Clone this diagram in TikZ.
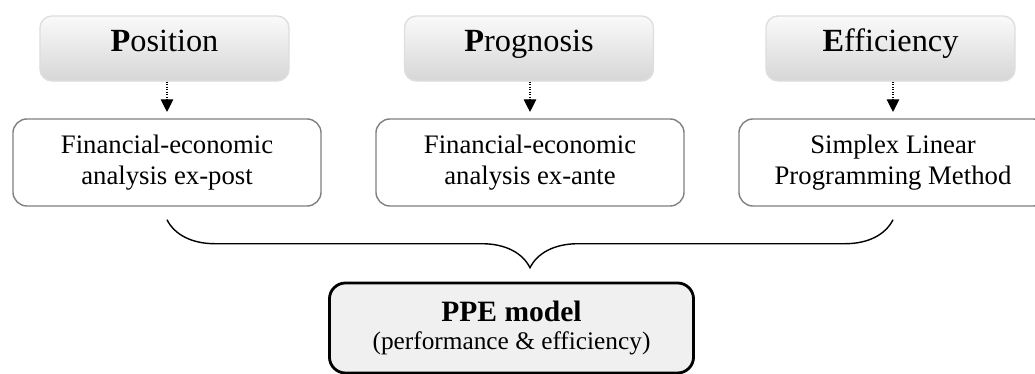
\documentclass[tikz,border=0pt]{standalone}
\usepackage{fontspec}
\setmainfont{Liberation Serif}
\usetikzlibrary{arrows.meta,decorations.pathreplacing,calc}

\begin{document}
\begin{tikzpicture}[x=0.025cm, y=0.025cm,
    pillar/.style={rectangle, rounded corners=0.3cm, draw=black!13, line width=1pt,
        top color=black!2, bottom color=black!16, minimum width=6.225cm, minimum height=1.625cm,
        text height=0.68em, text depth=0.22em, font=\fontsize{23}{27}\selectfont},
    method/.style={rectangle, rounded corners=0.35cm, draw=black!50, line width=1pt, fill=white,
        minimum width=7.7cm, minimum height=2.175cm, align=center,
        font=\fontsize{19}{22.5}\selectfont},
    model/.style={rectangle, rounded corners=0.4cm, draw=black, line width=2pt, fill=black!6,
        minimum width=9.1cm, minimum height=2.25cm, align=center,
        font=\fontsize{18}{20}\selectfont},
    dotarrow/.style={densely dotted, line width=0.8pt, -{Triangle[width=9pt,length=9pt]}, shorten >=4.5pt}]
    \useasboundingbox (0,0) rectangle (1035,374);
    \clip (0,0) rectangle (1035,374);

    % PILASTRI
    \node[pillar] (t1) at (164.5,325.5) {\textbf{P}osition};
    \node[pillar] (t2) at (529,325.5) {\textbf{P}rognosis};
    \node[pillar] (t3) at (890.5,325.5) {\textbf{E}fficiency};

    % METODI
    \node[method] (b1) at (167,211.5) {Financial-economic\\analysis ex-post};
    \node[method] (b2) at (530,211.5) {Financial-economic\\analysis ex-ante};
    \node[method] (b3) at (893,211.5) {Simplex Linear\\Programming Method};

    \draw[dotarrow] (b1.north |- t1.south) -- (b1.north);
    \draw[dotarrow] (b2.north |- t2.south) -- (b2.north);
    \draw[dotarrow] (b3.north |- t3.south) -- (b3.north);

    % MODELLO
    \node[model] (m) at (511.5,46) {{\fontsize{21}{20}\selectfont\bfseries PPE model}\\
        (performance \& efficiency)};

    \coordinate (bl) at ($(b1.south)+(0,-13)$);
    \coordinate (br) at ($(b3.south)+(0,-13)$);
    \draw[line width=1pt, decorate, decoration={brace, mirror, amplitude=1.2cm}] (bl) -- (br);
\end{tikzpicture}
\end{document}
